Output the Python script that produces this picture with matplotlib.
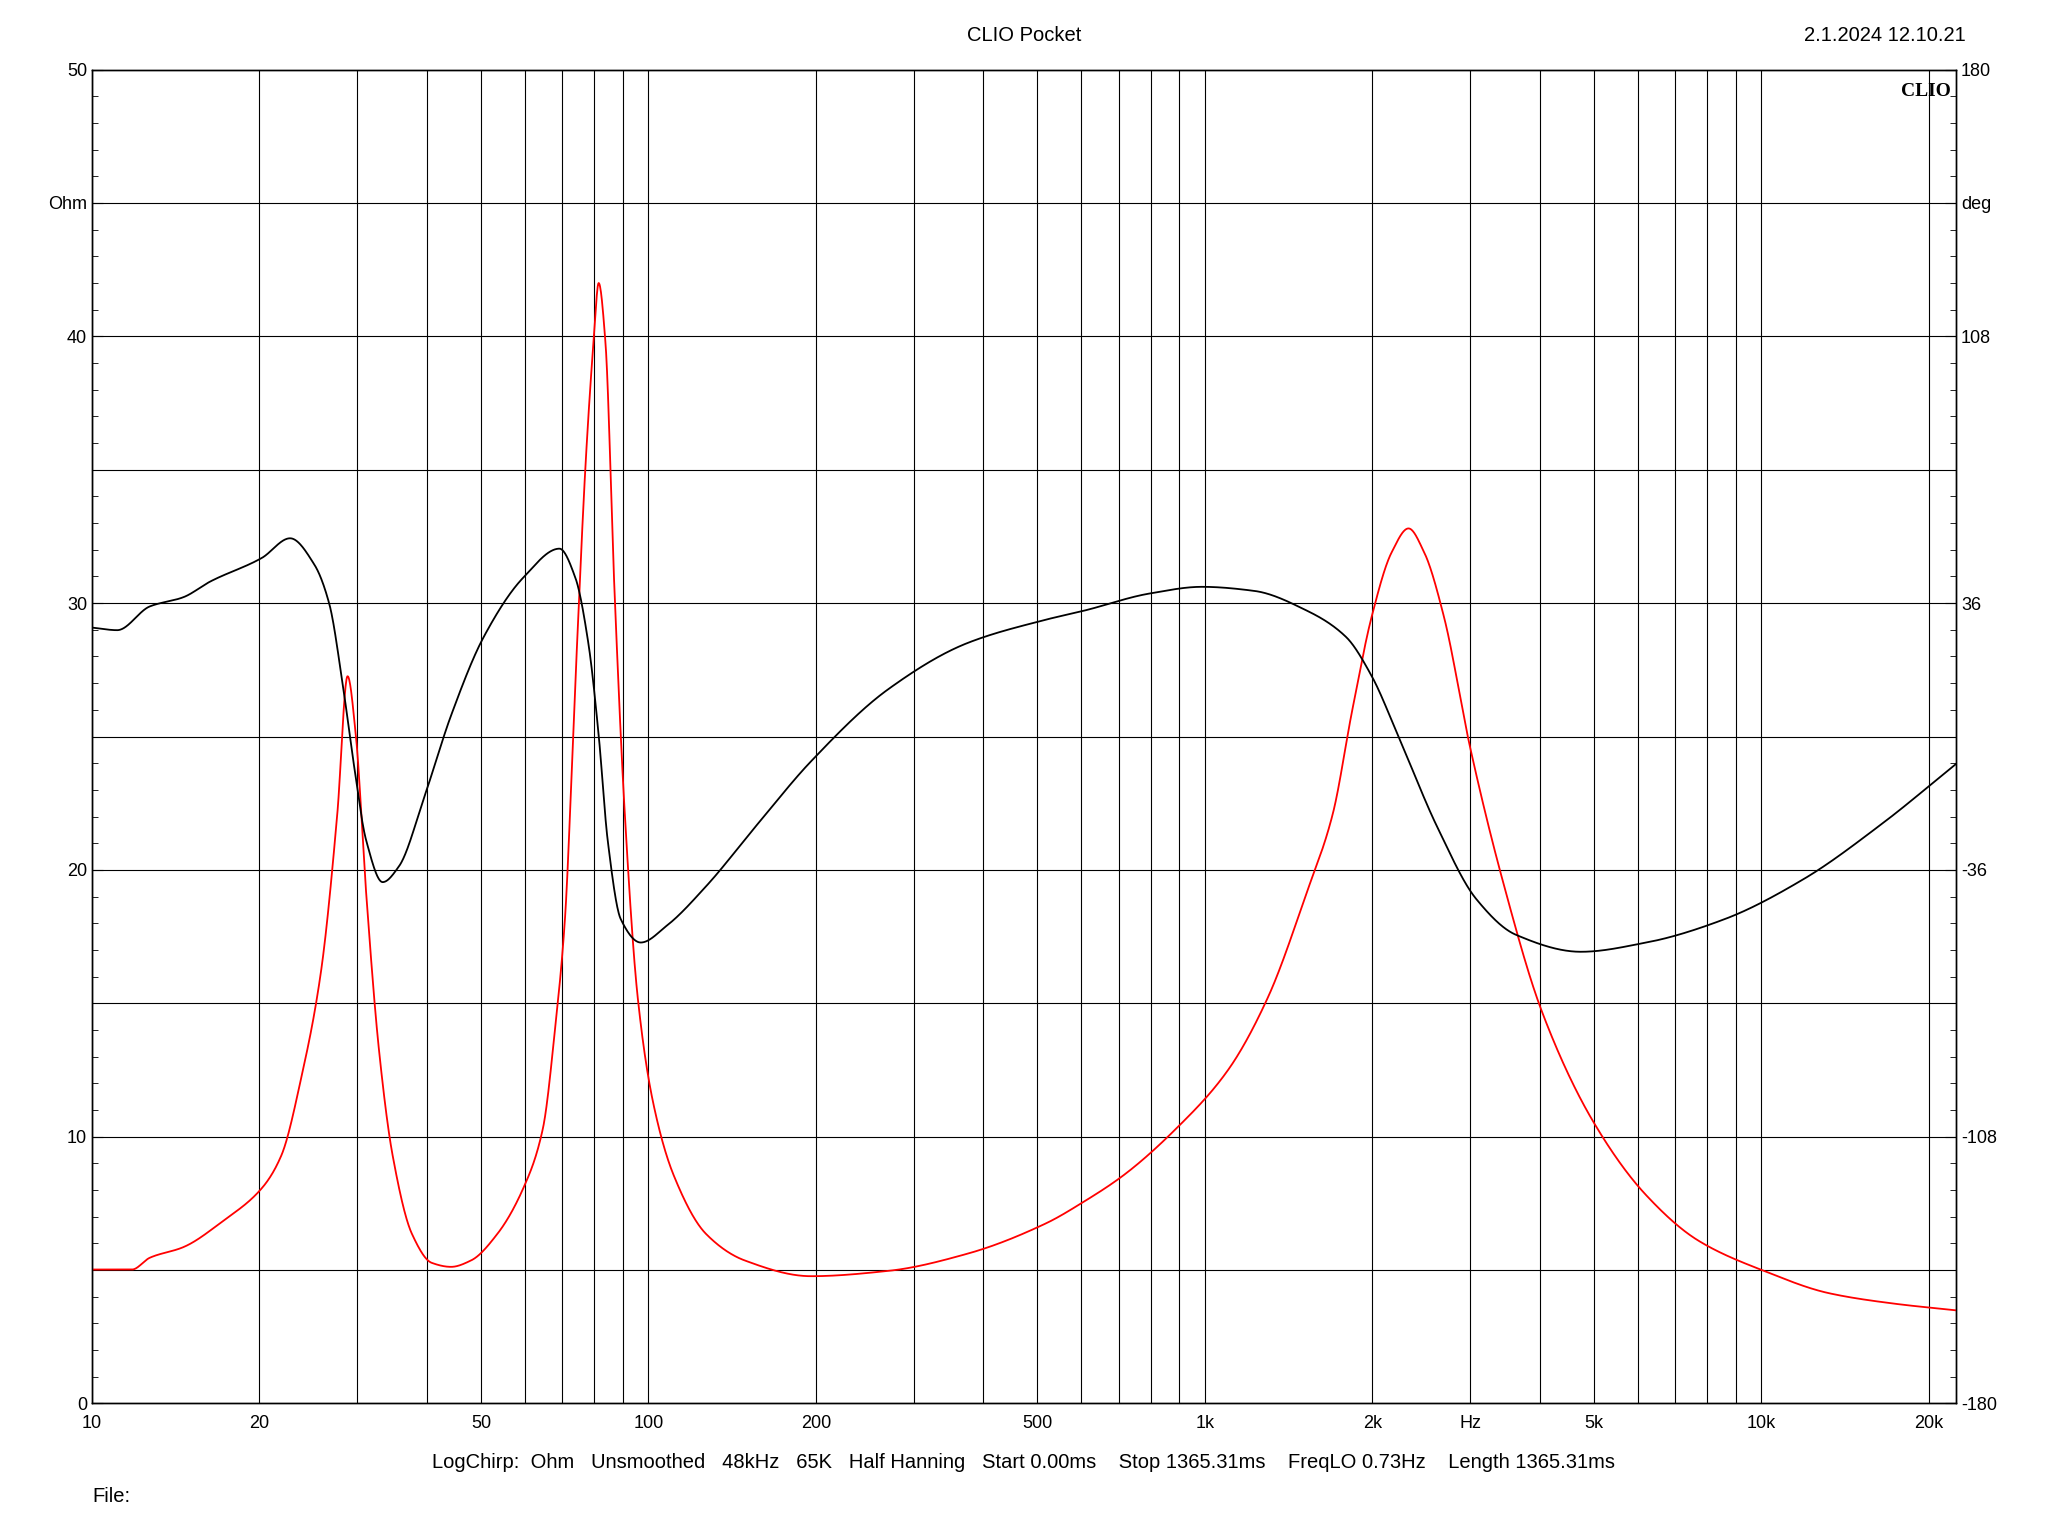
import numpy as np
from matplotlib import pyplot as plt

# Impedance (red, left axis, Ohm)
imp_freq = [10, 11.8, 12.7, 14.6, 17.2, 20.2, 21.9, 23.8, 25.8, 27.6, 28.8, 29.8, 31.1, 32.8, 34.7,
            37.6, 40.8, 44.2, 48.0, 53.5, 59.6, 64.6, 68.1, 70.8, 73.9, 77.2, 79.7, 81.4, 83.7, 86.9,
            90.7, 95.7, 102, 111, 127, 149, 196, 270, 374, 517, 608, 715, 887, 1101, 1297, 1524,
            1698, 1841, 1995, 2166, 2323, 2479, 2689, 2997, 3430, 4033, 5010, 6215, 7713, 10110,
            13250, 17350, 22390]
imp_ohm = [5.02, 5.02, 5.46, 5.86, 6.84, 8.07, 9.30, 12.25, 16.19, 22.1, 27.26, 25.05, 19.14, 13.24, 9.3,
           6.35, 5.27, 5.12, 5.36, 6.35, 8.07, 10.29, 14.22, 18.16, 27.0, 35.4, 39.8, 42.0, 39.8, 30.5,
           22.1, 15.2, 11.27, 8.56, 6.35, 5.36, 4.77, 4.97, 5.61, 6.74, 7.58, 8.56, 10.29, 12.5, 15.2,
           19.14, 22.1, 26.0, 29.5, 31.9, 32.8, 31.9, 29.5, 24.6, 19.6, 14.7, 10.5, 7.8, 6.1, 4.97,
           4.13, 3.74, 3.49]

# Phase (black, right axis, deg)
ph_freq = [10, 11.1, 12.7, 14.6, 16.3, 20.2, 22.7, 25.1, 26.7, 28.2, 29.5, 31.1, 33.3, 35.6, 39.7,
           44.2, 50.6, 59.6, 69.2, 73.9, 78.0, 81.4, 84.5, 89.2, 96.9, 108, 127, 157, 196, 270, 374,
           517, 608, 796, 988, 1227, 1524, 1793, 1995, 2223, 2616, 3076, 3622, 4742, 6215, 8590,
           11880, 16430, 22390]
ph_deg = [29.4, 28.7, 35.1, 37.6, 41.8, 48.2, 53.5, 46.4, 35.8, 14.5, -6.7, -28.0, -39.3, -35.1, -15.6,
          5.7, 26.9, 42.9, 50.7, 42.9, 25.2, 0.4, -28.0, -49.3, -55.6, -51.0, -40.4, -23.7, -6.7, 12.8,
          25.2, 31.5, 34.0, 38.6, 40.4, 39.3, 34.0, 26.9, 16.3, 0.4, -24.4, -43.9, -53.5, -58.1,
          -55.6, -49.3, -38.6, -23.7, -7.4]

xtick_vals = [10, 20, 50, 100, 200, 500, 1000, 2000, 3000, 5000, 10000, 20000]
xtick_labels = ["10", "20", "50", "100", "200", "500", "1k", "2k", "Hz", "5k", "10k", "20k"]

plt.rcParams['font.family'] = 'Liberation Sans'
plt.rcParams['font.size'] = 13

fig = plt.figure(figsize=(20.48, 15.36), dpi=100)
ax = fig.add_axes([0.0449, 0.0863, 0.9102, 0.8684])
ax.set_xscale('log')
xmax = 22390
ax.set_xlim(10, xmax)
ax.set_ylim(0, 50)

# grid: decades and subdivisions
for dec in [10, 100, 1000, 10000]:
    for m in range(1, 10):
        f = dec * m
        if 10 <= f <= xmax:
            ax.axvline(f, color='black', lw=0.8, zorder=1)
for y in np.arange(5, 50, 5):
    ax.axhline(y, color='black', lw=0.8, zorder=1)


# monotone cubic (PCHIP) through the read points, in log-frequency
def pchip(x, y, xx):
    x = np.asarray(x, float)
    y = np.asarray(y, float)
    h = np.diff(x)
    d = np.diff(y) / h
    m = np.zeros_like(y)
    for k in range(1, len(x) - 1):
        if d[k - 1] * d[k] > 0:
            w1 = 2 * h[k] + h[k - 1]
            w2 = h[k] + 2 * h[k - 1]
            m[k] = (w1 + w2) / (w1 / d[k - 1] + w2 / d[k])
    m[0] = d[0]
    m[-1] = d[-1]
    i = np.clip(np.searchsorted(x, xx) - 1, 0, len(x) - 2)
    t = (xx - x[i]) / h[i]
    h00 = 2 * t**3 - 3 * t**2 + 1
    h10 = t**3 - 2 * t**2 + t
    h01 = -2 * t**3 + 3 * t**2
    h11 = t**3 - t**2
    return h00 * y[i] + h10 * h[i] * m[i] + h01 * y[i + 1] + h11 * h[i] * m[i + 1]


def smooth(fr, val):
    lf = np.log10(fr)
    xx = np.linspace(lf[0], lf[-1], 4000)
    return 10 ** xx, pchip(lf, val, xx)


fx, fy = smooth(imp_freq, imp_ohm)
ax.plot(fx, fy, color='red', lw=1.3, zorder=3)

ax2 = ax.twinx()
ax2.set_ylim(-180, 180)
px, py = smooth(ph_freq, ph_deg)
ax2.plot(px, py, color='black', lw=1.3, zorder=3)

ax.set_xticks(xtick_vals)
ax.set_xticklabels(xtick_labels)
ax.xaxis.set_minor_locator(plt.NullLocator())
ax.tick_params(axis='x', length=0, pad=8)

ax.set_yticks([0, 10, 20, 30, 40, 45, 50])
ax.set_yticklabels(["0", "10", "20", "30", "40", "Ohm", "50"])
ax.set_yticks(np.arange(0, 51, 1), minor=True)
ax.tick_params(axis='y', which='major', direction='in', length=8)
ax.tick_params(axis='y', which='minor', direction='in', length=4)

ax2.set_yticks([-180, -108, -36, 36, 108, 144, 180])
ax2.set_yticklabels(["-180", "-108", "-36", "36", "108", "deg", "180"])
ax2.set_yticks(np.arange(-180, 181, 7.2), minor=True)
ax2.tick_params(axis='y', which='major', direction='in', length=8)
ax2.tick_params(axis='y', which='minor', direction='in', length=4)

for a in (ax, ax2):
    for s in a.spines.values():
        s.set_linewidth(1.0)

fig.text(0.5, 0.977, "CLIO Pocket", ha='center', va='center', fontsize=14.5)
fig.text(0.9596, 0.977, "2.1.2024 12.10.21", ha='right', va='center', fontsize=14.5)
ax.text(0.997, 0.99, "CLIO", transform=ax.transAxes, ha='right', va='top',
        family='Liberation Serif', weight='bold', fontsize=14)
fig.text(0.5, 0.048, "LogChirp:  Ohm   Unsmoothed   48kHz   65K   Half Hanning   Start 0.00ms    Stop 1365.31ms    FreqLO 0.73Hz    Length 1365.31ms",
         ha='center', va='center', fontsize=14.5)
fig.text(0.0449, 0.026, "File:", ha='left', va='center', fontsize=14.5)

fig.savefig("out.png", dpi=100)
